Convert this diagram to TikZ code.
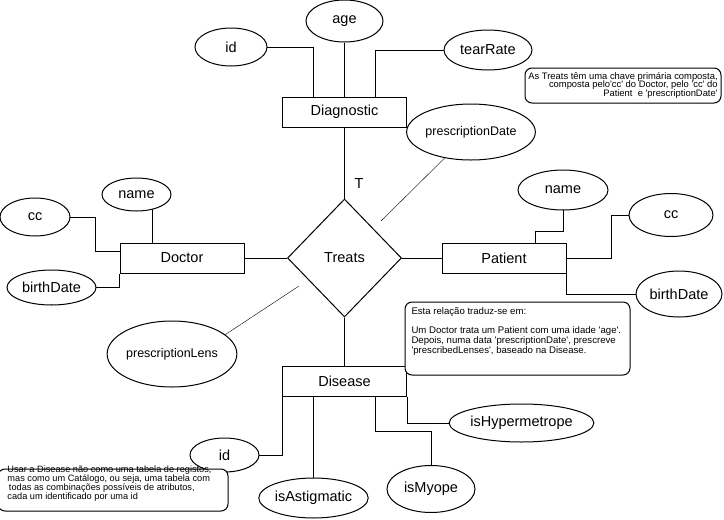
\documentclass[tikz,border=0pt]{standalone}
\usepackage{fontspec}
\setmainfont{Liberation Sans}
\usetikzlibrary{shapes.geometric,backgrounds}
\newcommand{\sq}{\textquotesingle}
\begin{document}
\begin{tikzpicture}[x=1pt,y=-1pt,line width=1pt,
  lbl/.style={font=\fontsize{14.5}{16}\selectfont},
  ent/.style={draw,fill=white,rectangle,minimum width=124pt,minimum height=30pt,inner sep=0pt,lbl},
  attr/.style={draw,fill=white,ellipse,inner sep=0pt,lbl},
  rel/.style={draw,fill=white,diamond,aspect=1,minimum width=114pt,minimum height=118pt,inner sep=0pt,lbl},
  note/.style={draw,fill=white,rounded corners=7pt,inner sep=2pt,font=\fontsize{9.4}{8.9}\selectfont},
  notetext/.style={inner sep=0pt,align=left,font=\fontsize{9.4}{8.9}\selectfont}]
\useasboundingbox (0,0) rectangle (724,520);

% Diagnostic
\node[ent] (diag) at (344.5,112) {Diagnostic};
\node[attr,minimum width=72pt,minimum height=38pt] (diagId) at (231,47) {id};
\node[attr,minimum width=77pt,minimum height=42pt] (age) at (344.5,21) {age};
\node[attr,minimum width=88pt,minimum height=40pt] (tear) at (488,50) {tearRate};

% Treats
\node[rel] (treats) at (344.5,258) {Treats};
\node[lbl,inner sep=0pt] (tlab) at (359,184) {T};
\node[attr,minimum width=100pt,minimum height=56pt,font=\fontsize{12.5}{14}\selectfont] (pdate) at (471,132) {prescriptionDate};
\node[attr,minimum width=124pt,minimum height=66pt,font=\fontsize{12.5}{14}\selectfont] (plens) at (172,354) {prescriptionLens};
\coordinate (pdEnd) at (381,221);
\coordinate (plEnd) at (299,286);

% Doctor
\node[ent] (doctor) at (182,258) {Doctor};
\node[attr,minimum width=69pt,minimum height=33pt] (docName) at (136.5,194.5) {name};
\node[attr,minimum width=70pt,minimum height=38pt] (docCc) at (35,217) {cc};
\node[attr,minimum width=89pt,minimum height=35pt] (docBd) at (51.5,287.5) {birthDate};

% Patient
\node[ent] (patient) at (504,258) {Patient};
\node[attr,minimum width=90pt,minimum height=40pt] (patName) at (563,190) {name};
\node[attr,minimum width=84pt,minimum height=43pt] (patCc) at (671,215) {cc};
\node[attr,minimum width=86pt,minimum height=46pt] (patBd) at (679,294) {birthDate};

% Disease
\node[ent] (disease) at (344.5,381) {Disease};
\node[attr,minimum width=69pt,minimum height=34pt] (disId) at (224.5,455) {id};
\node[attr,minimum width=103pt,minimum height=40pt] (isAst) at (313.5,498) {isAstigmatic};
\node[attr,minimum width=88pt,minimum height=47pt] (isMy) at (431,489) {isMyope};
\node[attr,minimum width=136pt,minimum height=38pt] (isHy) at (521.5,423) {isHypermetrope};

% Notes
\node[note,minimum width=196pt,minimum height=35pt,align=right] (noteTop) at (623,85.5)
  {As Treats têm uma chave primária composta,\\composta pelo\sq cc\sq{} do Doctor, pelo \sq cc\sq{} do\\Patient~ e \sq prescriptionDate\sq};
\node[note,minimum width=225pt,minimum height=73pt] (noteMid) at (517.5,338.5) {};
\node[notetext,anchor=north west,font=\fontsize{9.6}{8.9}\selectfont] (noteMidText) at (411,307.5)
  {Esta relação traduz-se em:\\[8.9pt]Um Doctor trata um Patient com uma idade \sq age\sq.\\Depois, numa data \sq prescriptionDate\sq, prescreve\\\sq prescribedLenses\sq, baseado na Disease.};
\node[note,minimum width=230pt,minimum height=42pt] (noteBot) at (113,490) {};
\node[notetext,anchor=north west,font=\fontsize{9.2}{8.9}\selectfont] (noteBotText) at (7,465.5)
  {Usar a Disease não como uma tabela de registos,\\mas como um Catálogo, ou seja, uma tabela com\\\hspace{1.5pt}todas as combinações possíveis de atributos,\\cada um identificado por uma id};

\begin{pgfonlayer}{background}
\draw (diagId.center) -| ([xshift=-31.5pt]diag.north);
\draw (age) -- (diag);
\draw (tear.center) -| ([xshift=31pt]diag.north);
\draw (diag) -- (treats);
\draw (pdEnd) -- (pdate);
\draw (plEnd) -- (plens.20);
\draw ([xshift=-30pt]doctor.north) |- (docName.center);
\draw (docCc.center) -| (95,251) -- (doctor.west |- 95,251);
\draw (docBd.center) -| (doctor.south west);
\draw (doctor) -- (treats);
\draw (treats) -- (patient);
\draw (patName.center) |- (535,231) -- (patient.north -| 535,0);
\draw (patient.east) -| (611,215) -- (patCc.center);
\draw (patient.south east) |- (patBd.center);
\draw (treats) -- (disease);
\draw (disease.south west) |- (disId.center);
\draw ([xshift=-31pt]disease.south) -- (isAst.center);
\draw ([xshift=31pt]disease.south) -- ++(0,35) -| (isMy.center);
\draw (disease.south east) |- (isHy.center);
\end{pgfonlayer}
\end{tikzpicture}
\end{document}
